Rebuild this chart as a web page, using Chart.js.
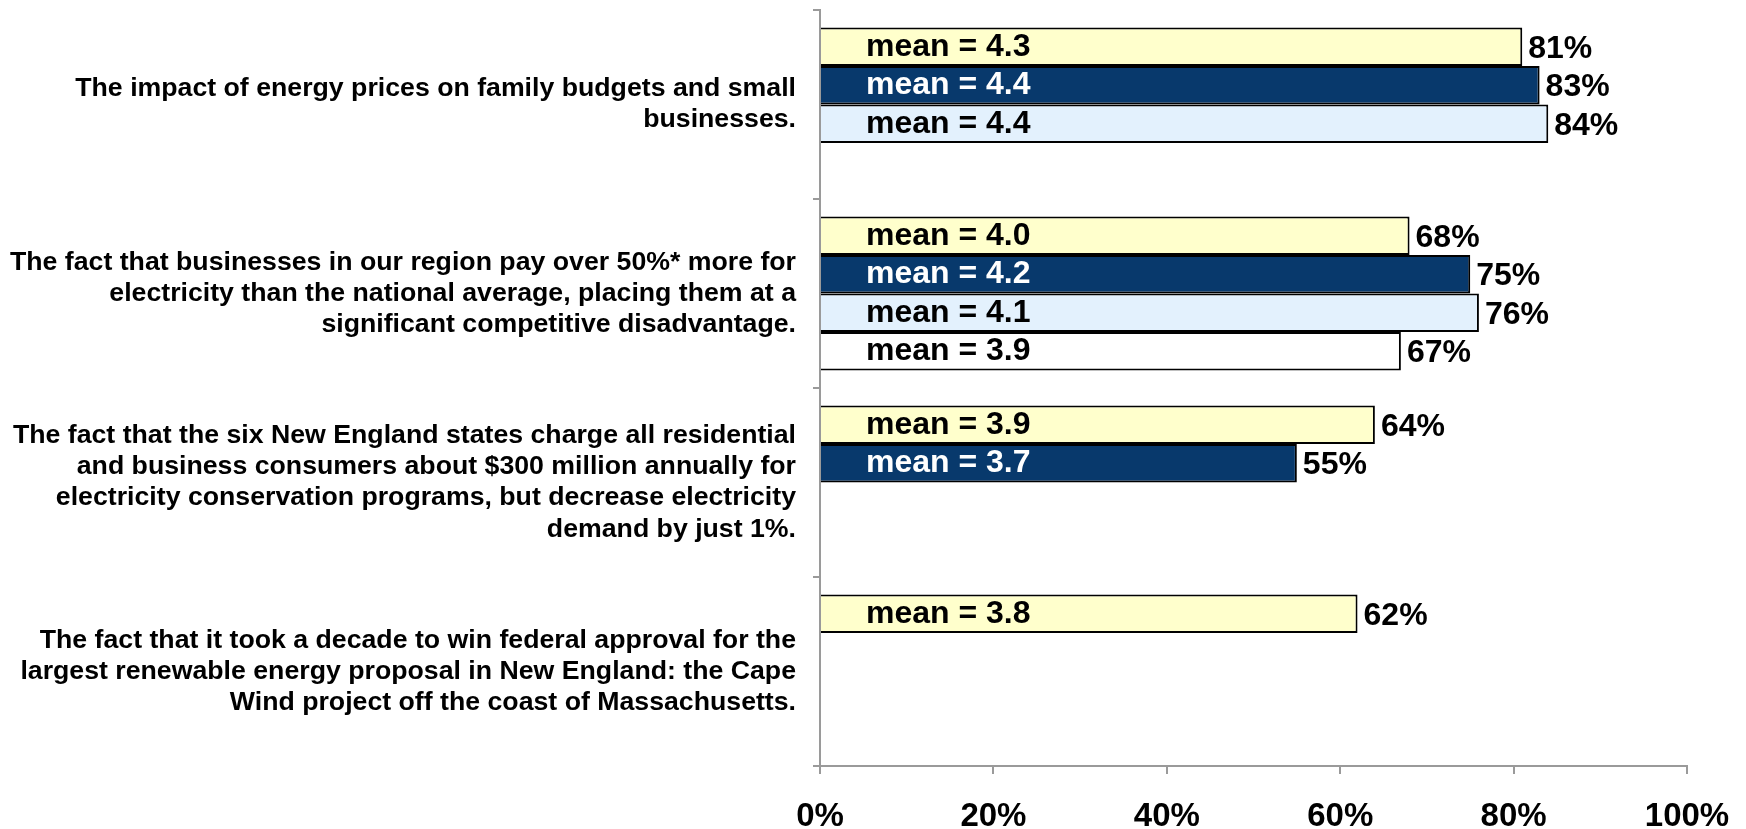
<!DOCTYPE html>
<html>
<head>
<meta charset="utf-8">
<script src="https://cdn.jsdelivr.net/npm/chart.js@4/dist/chart.umd.min.js"></script>
<style>
  html, body { margin: 0; padding: 0; background: #fff; }
  canvas { display: block; }
</style>
</head>
<body>
<canvas id="barChart" width="1746" height="829"></canvas>
<script>
// statements, wrapped as in the original slide
var categories = [
    ['The impact of energy prices on family budgets and small', 'businesses.'],
    ['The fact that businesses in our region pay over 50%* more for', 'electricity than the national average, placing them at a', 'significant competitive disadvantage.'],
    ['The fact that the six New England states charge all residential', 'and business consumers about $300 million annually for', 'electricity conservation programs, but decrease electricity', 'demand by just 1%.'],
    ['The fact that it took a decade to win federal approval for the', 'largest renewable energy proposal in New England: the Cape', 'Wind project off the coast of Massachusetts.']
];

// percent values per survey group
var group1 = [81, 68, 64, 62];
var group2 = [83, 75, 55, null];
var group3 = [84, 76, null, null];
var group4 = [null, 67, null, null];

// mean scores shown inside the bars
var means1 = ['4.3', '4.0', '3.9', '3.8'];
var means2 = ['4.4', '4.2', '3.7', null];
var means3 = ['4.4', '4.1', null, null];
var means4 = [null, '3.9', null, null];

var xTicks = [0, 20, 40, 60, 80, 100];

var FONT = '"Liberation Sans", Arial, sans-serif';

var barLabels = {
    id: 'barLabels',
    afterDatasetsDraw: function(chart) {
        var ctx = chart.ctx;
        var left = chart.chartArea.left;
        ctx.save();
        ctx.font = 'bold 32px ' + FONT;
        ctx.textBaseline = 'middle';
        ctx.textAlign = 'left';
        chart.data.datasets.forEach(function(ds, i) {
            var meta = chart.getDatasetMeta(i);
            meta.data.forEach(function(bar, j) {
                var v = ds.data[j];
                if (v === null || v === undefined) return;
                ctx.fillStyle = ds.meanColor;
                ctx.fillText('mean = ' + ds.means[j], left + 46, bar.y);
                ctx.fillStyle = '#000';
                ctx.fillText(v + '%', bar.x + 6, bar.y + 2);
            });
        });
        ctx.restore();
    }
};

var ctx = document.getElementById('barChart').getContext('2d');
var myChart = new Chart(ctx, {
    type: 'bar',
    data: {
        labels: categories,
        datasets: [{
            data: group1,
            means: means1,
            meanColor: '#000',
            backgroundColor: '#FFFFCC',
            borderColor: '#000',
            borderWidth: 2
        }, {
            data: group2,
            means: means2,
            meanColor: '#fff',
            backgroundColor: '#08396C',
            borderColor: '#000',
            borderWidth: 2
        }, {
            data: group3,
            means: means3,
            meanColor: '#000',
            backgroundColor: '#E3F1FD',
            borderColor: '#000',
            borderWidth: 2
        }, {
            data: group4,
            means: means4,
            meanColor: '#000',
            backgroundColor: '#FFFFFF',
            borderColor: '#000',
            borderWidth: 2
        }]
    },
    options: {
        indexAxis: 'y',
        responsive: false,
        animation: false,
        barPercentage: 1,
        categoryPercentage: 0.815,
        layout: { padding: { top: 10, right: 59, bottom: 0, left: 0 } },
        plugins: {
            legend: { display: false },
            tooltip: { enabled: false }
        },
        scales: {
            x: {
                min: 0,
                max: 100,
                afterBuildTicks: function(scale) {
                    scale.ticks = xTicks.map(function(v) { return { value: v }; });
                },
                afterFit: function(scale) {
                    scale.height = 63;
                    scale.paddingLeft = 0;
                    scale.paddingRight = 0;
                },
                grid: { drawOnChartArea: false, tickLength: 8, color: '#9a9a9a', lineWidth: 2 },
                border: { color: '#9a9a9a', width: 2 },
                ticks: {
                    color: '#000',
                    padding: 23,
                    maxRotation: 0,
                    font: { family: FONT, size: 33, weight: 'bold' },
                    callback: function(v) { return v + '%'; }
                }
            },
            y: {
                afterFit: function(scale) {
                    scale.width = 820;
                    scale.paddingTop = 0;
                    scale.paddingBottom = 0;
                },
                grid: { drawOnChartArea: false, offset: true, tickLength: 7, color: '#9a9a9a', lineWidth: 2 },
                border: { color: '#9a9a9a', width: 2 },
                ticks: {
                    color: '#000',
                    padding: 17,
                    crossAlign: 'near',
                    font: { family: FONT, size: 26.7, weight: 'bold', lineHeight: 1.17 }
                }
            }
        }
    },
    plugins: [barLabels]
});
</script>
</body>
</html>
